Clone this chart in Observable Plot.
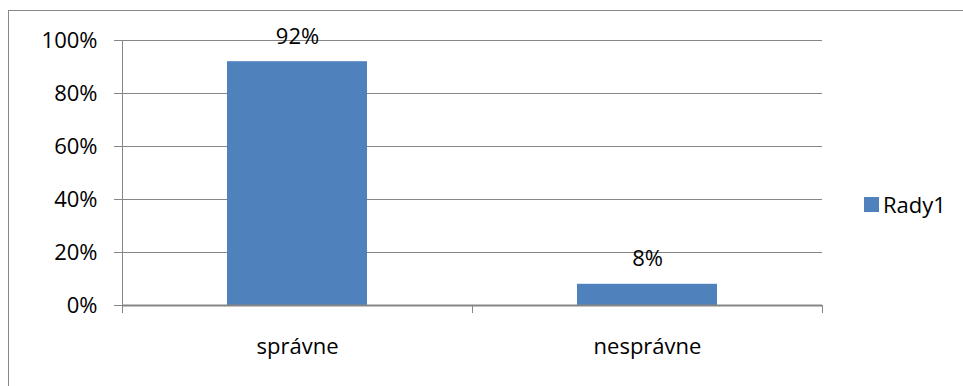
<!DOCTYPE html>
<html>
<head>
<meta charset="utf-8">
<script src="https://cdn.jsdelivr.net/npm/d3@7"></script>
<script src="https://cdn.jsdelivr.net/npm/@observablehq/plot@0.6"></script>
<style>
  html, body { margin: 0; padding: 0; background: #fff; overflow: hidden; }
  #wrap { position: relative; width: 963px; height: 386px; background: #fff; font-family: "Open Sans", sans-serif; }
  #border { position: absolute; left: 8px; top: 10px; width: 2000px; height: 2000px; border-left: 1px solid #888; border-top: 1px solid #888; }
  #chart { position: absolute; left: 0; top: 0; }
  #legend { position: absolute; left: 864px; top: 189px; display: flex; align-items: center; font-size: 22px; color: #000; }
  #legend .sw { width: 15px; height: 15px; margin-right: 4px; }
</style>
</head>
<body>
<div id="wrap">
  <div id="border"></div>
  <div id="chart"></div>
  <div id="legend"><div class="sw"></div><span id="legtext"></span></div>
</div>
<script>
const categories = ["správne", "nesprávne"];
const values = [0.92, 0.08];
const yTicks = [0, 0.2, 0.4, 0.6, 0.8, 1];
const seriesName = "Rady1";
const barColor = "#4F81BD";
const gridColor = "#868686";

const data = categories.map((c, i) => ({category: c, value: values[i]}));
const pct = v => Math.round(v * 100) + "%";

const chart = Plot.plot({
  width: 963,
  height: 386,
  marginTop: 40,
  marginBottom: 81,
  marginLeft: 122,
  marginRight: 141,
  style: {fontFamily: "Open Sans", fontSize: "22px", color: "#000", background: "transparent", overflow: "visible"},
  x: {domain: categories, paddingInner: 0.6, paddingOuter: 0.3, label: null},
  y: {domain: [0, 1], label: null},
  marks: [
    Plot.gridY(yTicks, {stroke: gridColor, strokeOpacity: 1}),
    Plot.axisY(yTicks, {tickSize: 8, tickPadding: 17, stroke: gridColor, tickFormat: pct, fill: "#000"}),
    Plot.frame({anchor: "left", stroke: gridColor}),
    Plot.barY(data, {x: "category", y: "value", fill: barColor}),
    Plot.ruleY([0], {stroke: gridColor, strokeWidth: 2}),
    Plot.axisX({ticks: categories, text: null, tickSize: 8, dx: -175, stroke: gridColor}),
    Plot.axisX({ticks: [categories[categories.length - 1]], text: null, tickSize: 8, dx: 175, stroke: gridColor}),
    Plot.axisX({tickSize: 0, tickPadding: 33, fill: "#000"}),
    Plot.text(data, {x: "category", y: "value", text: d => pct(d.value), dy: -25, fill: "#000", fontSize: 22})
  ]
});
document.getElementById("chart").appendChild(chart);
document.querySelector("#legend .sw").style.background = barColor;
document.getElementById("legtext").textContent = seriesName;
</script>
</body>
</html>
